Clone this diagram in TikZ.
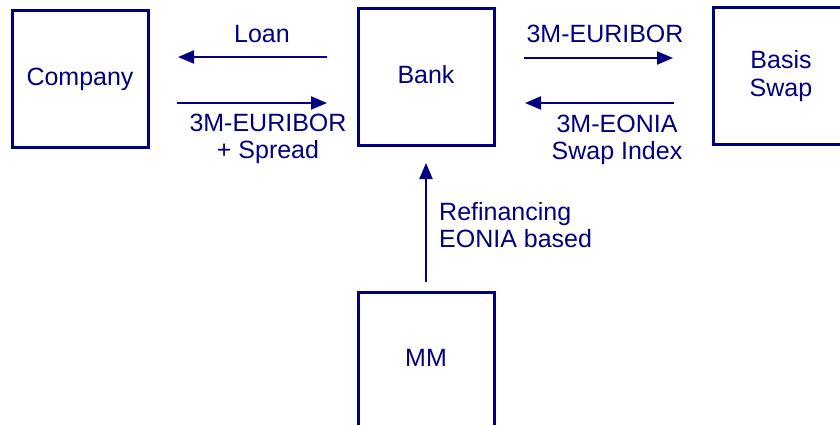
\documentclass[tikz,border=0pt]{standalone}
\usepackage{fontspec}
\setmainfont{Liberation Sans}
\usetikzlibrary{arrows.meta}
\definecolor{navy}{RGB}{0,0,128}

\begin{document}
\begin{tikzpicture}[line cap=butt,line join=miter,x=1pt,y=-1pt,
  >={Triangle[length=16pt,width=13pt]},
  box/.style={draw=navy,line width=3pt,minimum width=136pt,minimum height=136pt,
    inner sep=0pt,outer sep=0pt,align=center,font=\fontsize{25}{28}\selectfont,text=navy},
  lbl/.style={inner sep=0pt,align=center,font=\fontsize{25}{27.5}\selectfont,text=navy},
  flow/.style={->,draw=navy,line width=2pt}]
\useasboundingbox (0,0) rectangle (840,425);
\clip (0,0) rectangle (840,425);
% parties
\node[box,text depth=5pt] (company) at (80,79) {Company};
\node[box,text depth=5pt] (bank) at (426,77) {Bank};
\node[box] (swap) at (781,76) {Basis\\Swap};
\node[box,text depth=5pt] (mm) at (426,360) {MM};
%
\draw[flow,shorten <=31pt,shorten >=30pt] (bank.west |- 0,57) -- (company.east |- 0,57);
\draw[flow,shorten <=29pt,shorten >=31pt] (company.east |- 0,103) -- (bank.west |- 0,103);
\node[lbl] (loan) at (262,34) {Loan};
\node[lbl] (euriborspread) at (268,139) {3M-EURIBOR\\+ Spread};
%
\draw[flow,shorten <=30pt,shorten >=40pt] (bank.east |- 0,58) -- (swap.west |- 0,58);
\draw[flow,shorten <=39pt,shorten >=31pt] (swap.west |- 0,103) -- (bank.east |- 0,103);
\node[lbl] (euribor) at (605,34) {3M-EURIBOR};
\node[lbl] (eonia) at (617,140) {3M-EONIA\\Swap Index};
%
\draw[flow,shorten <=10pt,shorten >=18pt] (mm.north) -- (bank.south);
\node[lbl,align=left,anchor=west] (refi) at (439,225) {Refinancing\\EONIA based};
\end{tikzpicture}
\end{document}
